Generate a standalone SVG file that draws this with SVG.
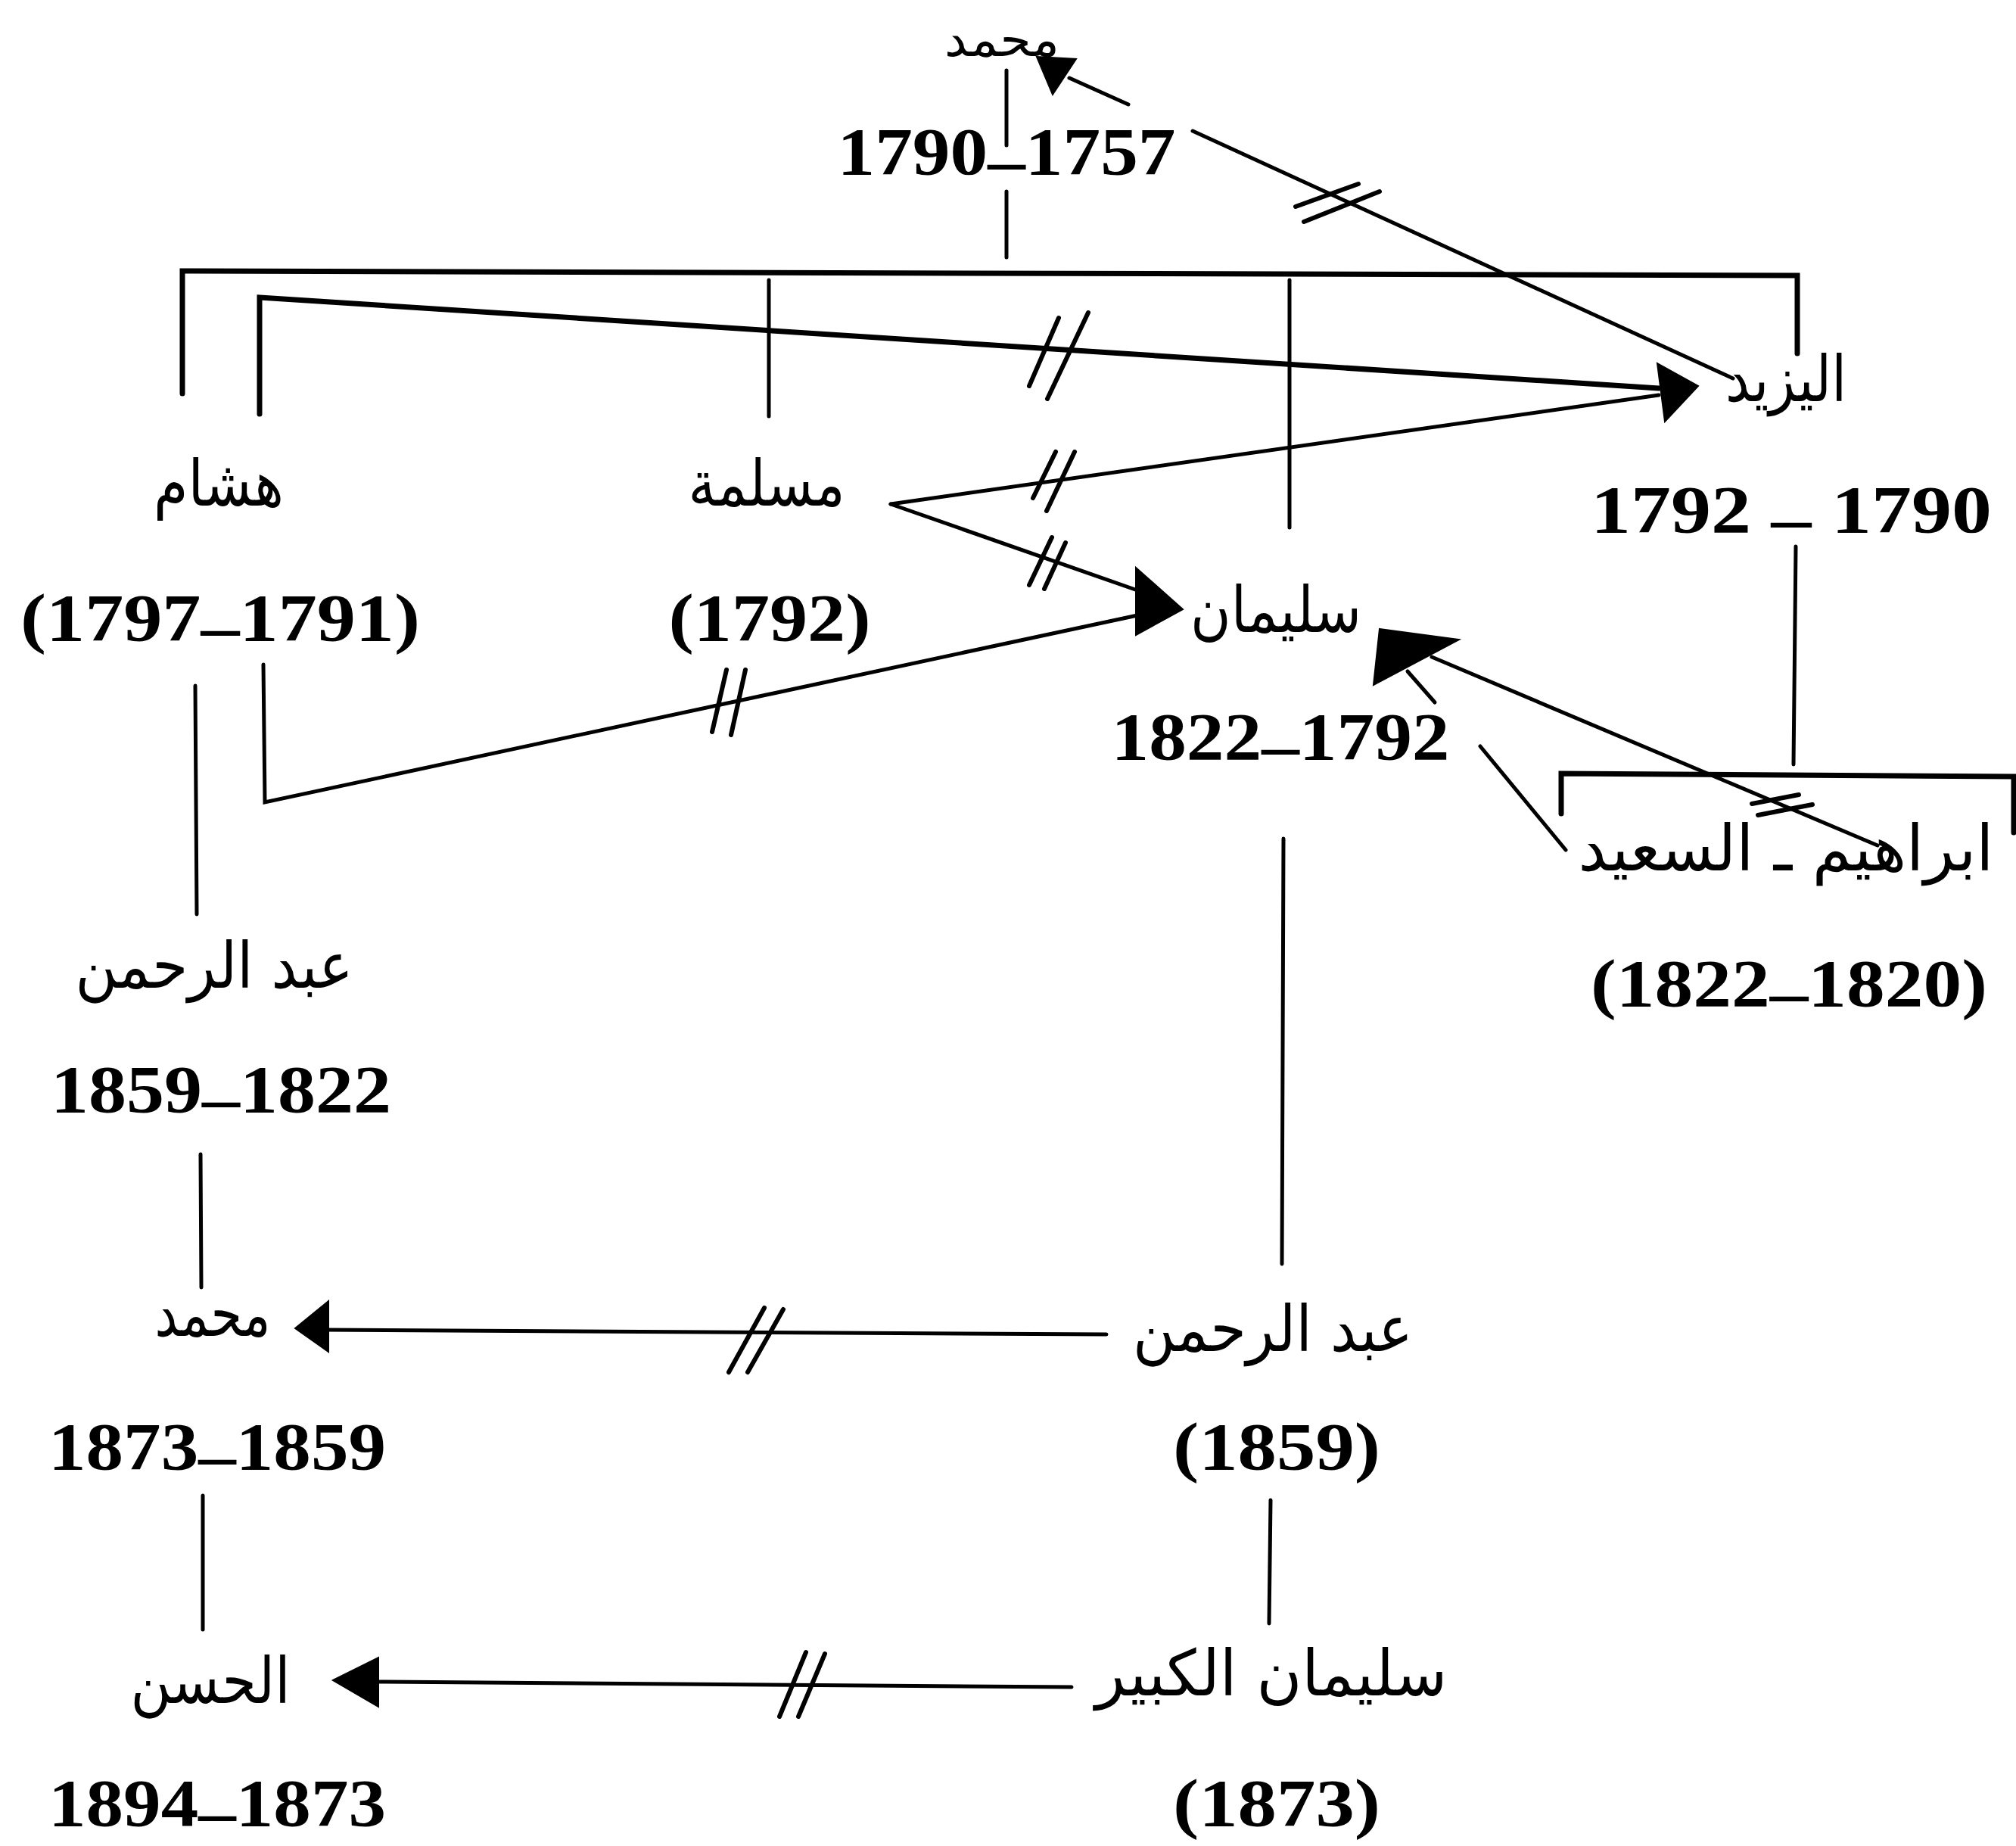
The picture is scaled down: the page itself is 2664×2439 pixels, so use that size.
<svg xmlns="http://www.w3.org/2000/svg" width="2664" height="2439" viewBox="0 0 2664 2439">
<style>
.ar{font-family:"DejaVu Sans",sans-serif;font-size:84px;fill:#000;text-anchor:middle}
.nm{font-family:"Liberation Serif","Times New Roman",serif;font-weight:bold;font-size:88px;fill:#000;text-anchor:middle}
.ln{stroke:#000;stroke-width:5;fill:none;stroke-linecap:round;stroke-linejoin:miter}
.thick{stroke-width:7}
.mk{stroke:#000;stroke-width:6;stroke-linecap:round}
.ah{fill:#000;stroke:#000;stroke-width:2}
</style>
<rect width="2664" height="2439" fill="#fff"/>
<g id="connectors">
<line class="ln" x1="1330" y1="93" x2="1330" y2="192"/>
<line class="ln" x1="1330" y1="253" x2="1330" y2="340"/>
<polyline class="ln thick" points="241,520 241,358 2375,364 2375,467"/>
<line class="ln" x1="1016" y1="370" x2="1016" y2="550"/>
<line class="ln" x1="1704" y1="370" x2="1704" y2="697"/>
<polyline class="ln thick" points="343,547 343,393 2192,513"/>
<polygon class="ah" points="2190,480 2244,510 2200,557"/>
<line class="mk" x1="1360" y1="510" x2="1399" y2="420"/>
<line class="mk" x1="1384" y1="527" x2="1438" y2="413"/>
<line class="ln" x1="1491" y1="138" x2="1413" y2="103"/>
<polygon class="ah" points="1370,75 1422,78 1391,125"/>
<line class="ln" x1="1576" y1="173" x2="2290" y2="500"/>
<line class="mk" x1="1712" y1="273" x2="1795" y2="243"/>
<line class="mk" x1="1723" y1="293" x2="1823" y2="253"/>
<line class="ln" x1="1177" y1="666" x2="2192" y2="522"/>
<line class="ln" x1="1177" y1="666" x2="1503" y2="780"/>
<line class="mk" x1="1365" y1="658" x2="1395" y2="597"/>
<line class="mk" x1="1383" y1="675" x2="1420" y2="597"/>
<line class="mk" x1="1360" y1="773" x2="1390" y2="710"/>
<line class="mk" x1="1380" y1="778" x2="1408" y2="717"/>
<polygon class="ah" points="1501,750 1563,805 1501,839"/>
<polyline class="ln" points="348,878 350,1060 1503,813"/>
<line class="mk" x1="941" y1="967" x2="960" y2="885"/>
<line class="mk" x1="966" y1="971" x2="985" y2="885"/>
<line class="ln" x1="258" y1="906" x2="260" y2="1208"/>
<line class="ln" x1="2373" y1="722" x2="2370" y2="1010"/>
<polyline class="ln thick" points="2063,1075 2063,1022 2661,1026 2661,1100"/>
<line class="ln" x1="2481" y1="1117" x2="1892" y2="868"/>
<polygon class="ah" points="1823,831 1928,845 1815,905"/>
<line class="mk" x1="2315" y1="1062" x2="2377" y2="1050"/>
<line class="mk" x1="2323" y1="1077" x2="2395" y2="1063"/>
<line class="ln" x1="2069" y1="1123" x2="1956" y2="986"/>
<line class="ln" x1="1896" y1="928" x2="1860" y2="887"/>
<line class="ln" x1="1696" y1="1108" x2="1694" y2="1670"/>
<line class="ln" x1="265" y1="1525" x2="266" y2="1701"/>
<line class="ln" x1="1462" y1="1763" x2="430" y2="1757"/>
<polygon class="ah" points="390,1755 434,1719 434,1786"/>
<line class="mk" x1="963" y1="1813" x2="1010" y2="1728"/>
<line class="mk" x1="988" y1="1813" x2="1035" y2="1730"/>
<line class="ln" x1="1679" y1="1982" x2="1677" y2="2145"/>
<line class="ln" x1="268" y1="1976" x2="268" y2="2153"/>
<line class="ln" x1="1416" y1="2229" x2="495" y2="2222"/>
<polygon class="ah" points="440,2220 500,2190 500,2255"/>
<line class="mk" x1="1030" y1="2268" x2="1065" y2="2183"/>
<line class="mk" x1="1055" y1="2268" x2="1090" y2="2185"/>
</g>
<g id="n-muhammad1"><text class="ar" x="1324" y="74" style="font-size:64px" textLength="152" lengthAdjust="spacingAndGlyphs">محمد</text>
<text class="nm" x="1330" y="230" textLength="447" lengthAdjust="spacingAndGlyphs">1790<tspan dy="12">–</tspan><tspan dy="-12">1757</tspan></text></g>
<g id="n-yazid"><text class="ar" x="2360" y="530" textLength="160" lengthAdjust="spacingAndGlyphs">اليزيد</text>
<text class="nm" x="2367" y="703" textLength="530" lengthAdjust="spacingAndGlyphs">1792 <tspan dy="12">–</tspan><tspan dy="-12"> 1790</tspan></text></g>
<g id="n-hisham"><text class="ar" x="289" y="668" textLength="172" lengthAdjust="spacingAndGlyphs">هشام</text>
<text class="nm" x="291" y="846" textLength="528" lengthAdjust="spacingAndGlyphs">(1797<tspan dy="12">–</tspan><tspan dy="-12">1791)</tspan></text></g>
<g id="n-maslama"><text class="ar" x="1013" y="668" textLength="207" lengthAdjust="spacingAndGlyphs">مسلمة</text>
<text class="nm" x="1017" y="846" textLength="267" lengthAdjust="spacingAndGlyphs">(1792)</text></g>
<g id="n-sulayman"><text class="ar" x="1686" y="835" textLength="226" lengthAdjust="spacingAndGlyphs">سليمان</text>
<text class="nm" x="1692" y="1003" textLength="447" lengthAdjust="spacingAndGlyphs">1822<tspan dy="12">–</tspan><tspan dy="-12">1792</tspan></text></g>
<g id="n-ibrahim-said"><text class="ar" x="2360" y="1150" textLength="549" lengthAdjust="spacingAndGlyphs">ابراهيم ـ السعيد</text>
<text class="nm" x="2364" y="1329" textLength="524" lengthAdjust="spacingAndGlyphs">(1822<tspan dy="12">–</tspan><tspan dy="-12">1820)</tspan></text></g>
<g id="n-abdrahman1"><text class="ar" x="283" y="1305" textLength="367" lengthAdjust="spacingAndGlyphs">عبد الرحمن</text>
<text class="nm" x="292" y="1469" textLength="450" lengthAdjust="spacingAndGlyphs">1859<tspan dy="12">–</tspan><tspan dy="-12">1822</tspan></text></g>
<g id="n-muhammad2"><text class="ar" x="281" y="1765" textLength="153" lengthAdjust="spacingAndGlyphs">محمد</text>
<text class="nm" x="287" y="1941" textLength="446" lengthAdjust="spacingAndGlyphs">1873<tspan dy="12">–</tspan><tspan dy="-12">1859</tspan></text></g>
<g id="n-abdrahman2"><text class="ar" x="1682" y="1785" textLength="370" lengthAdjust="spacingAndGlyphs">عبد الرحمن</text>
<text class="nm" x="1687" y="1941" textLength="274" lengthAdjust="spacingAndGlyphs">(1859)</text></g>
<g id="n-hasan"><text class="ar" x="278" y="2250" textLength="211" lengthAdjust="spacingAndGlyphs">الحسن</text>
<text class="nm" x="287" y="2412" textLength="446" lengthAdjust="spacingAndGlyphs">1894<tspan dy="12">–</tspan><tspan dy="-12">1873</tspan></text></g>
<g id="n-sulayman-kabir"><text class="ar" x="1680" y="2240" textLength="465" lengthAdjust="spacingAndGlyphs">سليمان الكبير</text>
<text class="nm" x="1687" y="2412" textLength="274" lengthAdjust="spacingAndGlyphs">(1873)</text></g>
</svg>
